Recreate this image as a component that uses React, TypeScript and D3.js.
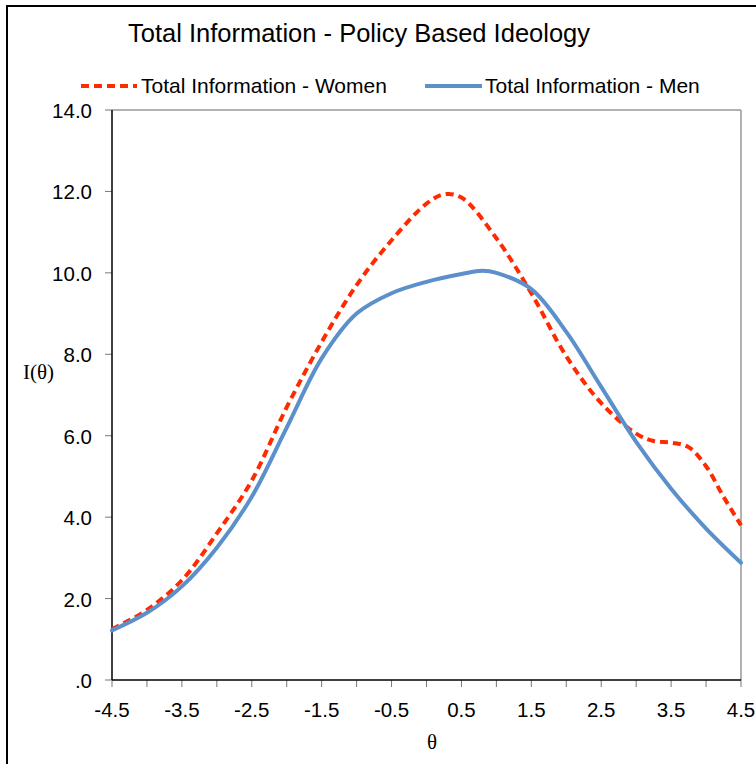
import React from "react";
import * as d3 from "d3";

const thetaWomen = [-4.5, -4.0, -3.5, -3.0, -2.5, -2.0, -1.5, -1.0, -0.5, 0.0, 0.25, 0.5, 1.0, 1.5, 2.0, 2.5, 3.0, 3.25, 3.5, 3.75, 4.0, 4.25, 4.5];
const infoWomen = [1.25, 1.72, 2.45, 3.6, 4.9, 6.7, 8.3, 9.7, 10.8, 11.7, 11.93, 11.85, 10.85, 9.5, 7.95, 6.8, 6.05, 5.87, 5.83, 5.72, 5.25, 4.5, 3.8];

const thetaMen = [-4.5, -4.0, -3.5, -3.0, -2.5, -2.0, -1.5, -1.0, -0.5, 0.0, 0.5, 0.8, 1.0, 1.5, 2.0, 2.5, 3.0, 3.5, 4.0, 4.5];
const infoMen = [1.22, 1.65, 2.3, 3.25, 4.5, 6.2, 7.9, 9.0, 9.5, 9.78, 9.97, 10.05, 10.0, 9.6, 8.55, 7.2, 5.85, 4.7, 3.72, 2.88];

const xTickValues = [-4.5, -4, -3.5, -3, -2.5, -2, -1.5, -1, -0.5, 0, 0.5, 1, 1.5, 2, 2.5, 3, 3.5, 4, 4.5];
const xTickLabels = ["-4.5", "-3.5", "-2.5", "-1.5", "-0.5", "0.5", "1.5", "2.5", "3.5", "4.5"];
const yTickValues = [0, 2, 4, 6, 8, 10, 12, 14];
const yTickLabels = [".0", "2.0", "4.0", "6.0", "8.0", "10.0", "12.0", "14.0"];

const title = "Total Information - Policy Based Ideology";
const seriesNames = ["Total Information - Women", "Total Information - Men"];

const RED = "#FF2A00";
const BLUE = "#5B90CA";

export default function App() {
  const left = 112, right = 741, top = 110, bottom = 680;
  const x = d3.scaleLinear().domain([-4.5, 4.5]).range([left, right]);
  const y = d3.scaleLinear().domain([0, 14]).range([bottom, top]);

  const line = d3
    .line<[number, number]>()
    .x((d) => x(d[0]))
    .y((d) => y(d[1]))
    .curve(d3.curveCatmullRom.alpha(0.5));

  const women = thetaWomen.map((t, i) => [t, infoWomen[i]] as [number, number]);
  const men = thetaMen.map((t, i) => [t, infoMen[i]] as [number, number]);

  const font = "'Liberation Sans', Arial, sans-serif";
  const serif = "'Liberation Serif', 'Times New Roman', serif";

  return (
    <svg
      width={756}
      height={764}
      style={{ position: "absolute", left: 0, top: 0, background: "#fff" }}
    >
      <rect x={0} y={0} width={756} height={764} fill="#fff" />
      <rect x={7} y={6} width={900} height={900} fill="none" stroke="#000" strokeWidth={2} />

      <text x={359} y={42} textAnchor="middle" fontFamily={font} fontSize={25.5} fill="#000">
        {title}
      </text>

      {/* legend */}
      <line x1={81} x2={137} y1={86} y2={86} stroke={RED} strokeWidth={4} strokeDasharray="8 5" />
      <text x={141} y={93} fontFamily={font} fontSize={21} fill="#000">
        {seriesNames[0]}
      </text>
      <line x1={425} x2={482} y1={86} y2={86} stroke={BLUE} strokeWidth={4} />
      <text x={485} y={93} fontFamily={font} fontSize={21} fill="#000">
        {seriesNames[1]}
      </text>

      {/* plot frame */}
      <line x1={left} x2={right} y1={top} y2={top} stroke="#999" strokeWidth={1.5} />
      <line x1={right} x2={right} y1={top} y2={bottom} stroke="#999" strokeWidth={1.5} />

      {/* y ticks */}
      {yTickValues.map((v, i) => (
        <g key={"y" + i}>
          <line x1={left - 7} x2={left} y1={y(v)} y2={y(v)} stroke="#777" strokeWidth={1} />
          <text x={92} y={y(v) + 8} textAnchor="end" fontFamily={font} fontSize={20.5} fill="#000">
            {yTickLabels[i]}
          </text>
        </g>
      ))}

      {/* x ticks */}
      {xTickValues.map((v, i) => (
        <line key={"x" + i} x1={x(v)} x2={x(v)} y1={bottom} y2={bottom + 7} stroke="#777" strokeWidth={1} />
      ))}
      {xTickLabels.map((l, i) => (
        <text key={"xl" + i} x={x(+l)} y={717} textAnchor="middle" fontFamily={font} fontSize={20.5} fill="#000">
          {l}
        </text>
      ))}

      {/* axes */}
      <line x1={left} x2={left} y1={top} y2={bottom} stroke="#000" strokeWidth={1.5} />
      <line x1={left} x2={right} y1={bottom} y2={bottom} stroke="#000" strokeWidth={1.5} />

      <text x={38.5} y={379} textAnchor="middle" fontFamily={serif} fontSize={21} fill="#000">
        I(θ)
      </text>
      <text x={432} y={749} textAnchor="middle" fontFamily={serif} fontSize={21} fill="#000">
        θ
      </text>

      <path d={line(women) || ""} fill="none" stroke={RED} strokeWidth={4} strokeDasharray="8 5" />
      <path d={line(men) || ""} fill="none" stroke={BLUE} strokeWidth={4} strokeLinecap="round" />
    </svg>
  );
}
